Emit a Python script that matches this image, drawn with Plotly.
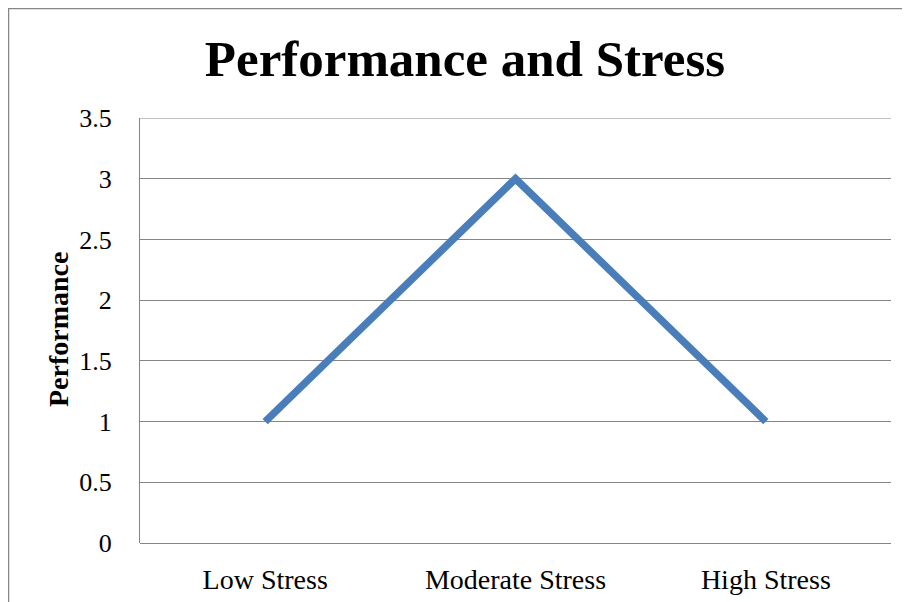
import plotly.graph_objects as go

categories = ["Low Stress", "Moderate Stress", "High Stress"]
performance = [1, 3, 1]
y_ticks = [0, 0.5, 1, 1.5, 2, 2.5, 3, 3.5]

FONT = "Liberation Serif"
GRID = "#868686"

fig = go.Figure()
fig.add_trace(go.Scatter(
    x=categories, y=performance, mode="lines",
    line=dict(color="#4A7EBB", width=7.5),
    showlegend=False, hoverinfo="skip",
))

# page content is offset by the 8px body margin
OFF = 8
W, H = 910, 602
L, T = 140 - OFF, 118 - OFF
R = W - (891 - OFF)
B = H - (543 - OFF)
pw, ph = W - L - R, H - T - B


def px_x(p):
    return (p - OFF - L) / pw


def px_y(p):
    return (H - B - (p - OFF)) / ph


fig.update_layout(
    width=W, height=H,
    margin=dict(l=L, r=R, t=T, b=B),
    paper_bgcolor="white", plot_bgcolor="white",
    font=dict(family=FONT, size=26, color="black"),
    title=dict(text="<b>Performance and Stress</b>", x=px_x(465), xref="paper",
               xanchor="center", y=1 - (58 - OFF) / H, yanchor="middle",
               font=dict(family=FONT, size=51, color="black")),
    xaxis=dict(type="category", range=[-0.5, 2.5], showgrid=False,
               showline=False, ticks="outside", ticklen=11,
               tickcolor="rgba(0,0,0,0)", zeroline=False,
               tickfont=dict(size=28)),
    yaxis=dict(range=[0, 3.5], tickvals=y_ticks, showgrid=True, gridcolor=GRID,
               gridwidth=1, showline=True, linecolor=GRID, linewidth=1,
               zeroline=True, zerolinecolor=GRID, zerolinewidth=1,
               ticks="outside", ticklen=22, tickcolor="rgba(0,0,0,0)",
               tickfont=dict(size=26)),
    shapes=[
        dict(type="rect", xref="paper", yref="paper",
             x0=px_x(8.5), x1=px_x(930), y0=px_y(630), y1=px_y(8.5),
             line=dict(color="#868686", width=1.5), layer="below"),
        dict(type="line", xref="paper", yref="y", x0=0, x1=1,
             y0=max(y_ticks), y1=max(y_ticks),
             line=dict(color=GRID, width=1), layer="below"),
    ],
    annotations=[dict(text="<b>Performance</b>", xref="paper", yref="paper",
                      x=px_x(58), y=px_y(330), textangle=-90, showarrow=False,
                      xanchor="center", yanchor="middle",
                      font=dict(family=FONT, size=28, color="black"))],
)

fig.write_html("out.html")
